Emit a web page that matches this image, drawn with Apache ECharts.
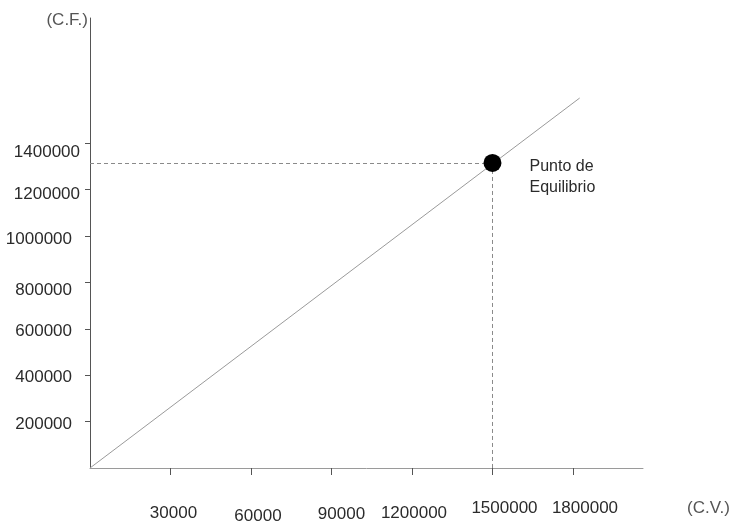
<!DOCTYPE html>
<html><head><meta charset="utf-8">
<script src="https://cdn.jsdelivr.net/npm/echarts@6/dist/echarts.min.js"></script>
<style>html,body{margin:0;padding:0;background:#fff}#c{width:735px;height:528px}</style>
</head><body><div id="c"></div>
<script>
// ---- data ----
const xTickValues = [300000, 600000, 900000, 1200000, 1500000, 1800000];
const xTickLabels = ['30000', '60000', '90000', '1200000', '1500000', '1800000'];
const yTickValues = [200000, 400000, 600000, 800000, 1000000, 1200000, 1400000];
const yTickLabels = ['200000', '400000', '600000', '800000', '1000000', '1200000', '1400000'];
const costLineX = [0, 1825000];
const costLineY = [0, 1595000];
const equilibriumX = 1500000;
const equilibriumY = 1315000;
const equilibriumLabel = 'Punto de\nEquilibrio';
const xAxisName = '(C.V.)';
const yAxisName = '(C.F.)';

// ---- styling ----
const FONT = '"Liberation Sans", Arial, sans-serif';
const TXT = '#2b2b2b';
const xPads = [[5,0,0,6],[8,0,0,14],[6,0,0,20],[5,0,0,4],[0,0,0,24],[0,0,0,24]];
const yPads = [[6,8,0,0],[4,8,0,0],[4,8,0,0],[16,8,0,0],[6,8,0,0],[10,0,0,0],[18,0,0,0]];
const xRich = {}, yRich = {};
xPads.forEach((p, i) => { xRich['x' + i] = {padding: p, fontSize: 17, fontFamily: FONT, color: TXT}; });
yPads.forEach((p, i) => { yRich['y' + i] = {padding: p, fontSize: 17, fontFamily: FONT, color: TXT}; });

const chart = echarts.init(document.getElementById('c'), null, {renderer: 'canvas'});
chart.setOption({
  animation: false,
  backgroundColor: '#ffffff',
  grid: {left: 90, top: 18, right: 92, bottom: 60, containLabel: false},
  xAxis: {
    type: 'value', min: 0, max: 2061000,
    name: '{n|' + xAxisName + '}', nameLocation: 'end', nameGap: 44,
    nameTextStyle: {
      align: 'left', verticalAlign: 'middle',
      rich: {n: {fontSize: 17, fontFamily: FONT, color: '#555', padding: [80, 0, 0, 0]}}
    },
    splitLine: {show: false},
    axisLine: {show: true, lineStyle: {color: '#9a9a9a', width: 1}},
    axisTick: {show: true, customValues: xTickValues, length: 7, inside: false, lineStyle: {color: '#555'}},
    axisLabel: {
      customValues: xTickValues, margin: 32,
      formatter: function (v) { const i = xTickValues.indexOf(v); return i < 0 ? '' : '{x' + i + '|' + xTickLabels[i] + '}'; },
      rich: xRich
    }
  },
  yAxis: {
    type: 'value', min: 0, max: 1940000,
    name: yAxisName, nameLocation: 'end', nameGap: -2,
    nameTextStyle: {fontSize: 17, fontFamily: FONT, color: '#555', align: 'right', verticalAlign: 'middle', padding: [0, 2, 0, 0]},
    splitLine: {show: false},
    axisLine: {show: true, lineStyle: {color: '#555', width: 1}},
    axisTick: {show: true, customValues: yTickValues, length: 5, lineStyle: {color: '#555'}},
    axisLabel: {
      customValues: yTickValues, margin: 10,
      formatter: function (v) { const i = yTickValues.indexOf(v); return i < 0 ? '' : '{y' + i + '|' + yTickLabels[i] + '}'; },
      rich: yRich
    }
  },
  series: [
    {
      type: 'line', data: costLineX.map((x, i) => [x, costLineY[i]]),
      symbol: 'none', lineStyle: {color: '#9a9a9a', width: 1}, z: 2
    },
    {
      type: 'scatter', data: [[equilibriumX, equilibriumY]],
      symbol: 'circle', symbolSize: 18, itemStyle: {color: '#000', opacity: 1}, z: 5,
      label: {
        show: true, formatter: equilibriumLabel, position: [46, 2],
        align: 'left', verticalAlign: 'top', fontSize: 16, lineHeight: 21,
        fontFamily: FONT, color: TXT
      },
      markLine: {
        silent: true, symbol: 'none', label: {show: false},
        lineStyle: {color: '#8a8a8a', type: [4, 3], width: 1},
        data: [
          [{coord: [0, equilibriumY]}, {coord: [equilibriumX, equilibriumY]}],
          [{coord: [equilibriumX, equilibriumY]}, {coord: [equilibriumX, 0]}]
        ]
      }
    }
  ]
});
</script>
</body></html>
